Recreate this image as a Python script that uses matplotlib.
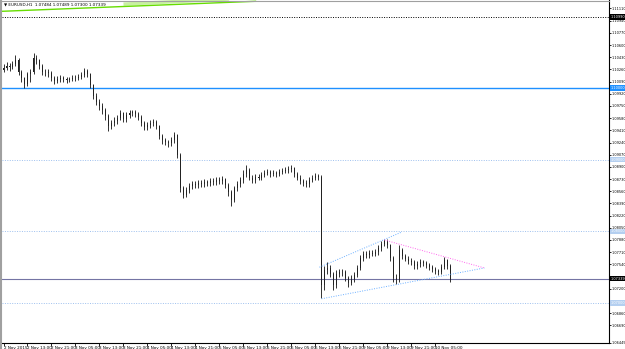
import matplotlib
matplotlib.use("Agg")
import matplotlib.pyplot as plt
import matplotlib.transforms as mtrans

plt.rcParams["font.family"] = ["Liberation Sans Narrow", "DejaVu Sans"]

# ── Data: EURUSD H1, 2-10 Nov 2015 ─────────────────────────────────────────────
closes = [
    1.1028, 1.1031, 1.1029, 1.1034, 1.1039, 1.1022, 1.1014, 1.1006, 1.1019, 1.1022,
    1.1042, 1.1039, 1.1031, 1.1022, 1.1022, 1.1021, 1.1014, 1.1010, 1.1013, 1.1014,
    1.1013, 1.1011, 1.1013, 1.1014, 1.1014, 1.1015, 1.1018, 1.1024, 1.1019, 1.1004,
    1.0989, 1.0981, 1.0975, 1.0969, 1.0961, 1.0947, 1.0951, 1.0954, 1.0958, 1.0965,
    1.0957, 1.0962, 1.0965, 1.0966, 1.0964, 1.0960, 1.0951, 1.0946, 1.0948, 1.0951,
    1.0953, 1.0947, 1.0933, 1.0927, 1.0925, 1.0923, 1.0927, 1.0934, 1.0907, 1.0860,
    1.0851, 1.0858, 1.0863, 1.0866, 1.0865, 1.0867, 1.0866, 1.0869, 1.0867, 1.0870,
    1.0869, 1.0872, 1.0870, 1.0873, 1.0865, 1.0855, 1.0844, 1.0860, 1.0866, 1.0872,
    1.0880, 1.0886, 1.0875, 1.0872, 1.0876, 1.0875, 1.0879, 1.0881, 1.0883, 1.0880,
    1.0881, 1.0880, 1.0883, 1.0884, 1.0886, 1.0887, 1.0888, 1.0880, 1.0875, 1.0870,
    1.0867, 1.0866, 1.0872, 1.0875, 1.0877, 1.0876, 1.0725, 1.0746, 1.0749, 1.0741,
    1.0725, 1.0741, 1.0743, 1.0743, 1.0735, 1.0728, 1.0734, 1.0739, 1.0749, 1.0763,
    1.0769, 1.0767, 1.0770, 1.0769, 1.0771, 1.0777, 1.0783, 1.0787, 1.0781, 1.0763,
    1.0735, 1.0732, 1.0774, 1.0766, 1.0762, 1.0759, 1.0757, 1.0752, 1.0755, 1.0757,
    1.0756, 1.0753, 1.0750, 1.0748, 1.0745, 1.0743, 1.0750, 1.0760, 1.0752, 1.0734,
]
highs = [
    1.1033, 1.1036, 1.1035, 1.1038, 1.1046, 1.1042, 1.1025, 1.1016, 1.1022, 1.1026,
    1.1049, 1.1046, 1.1041, 1.1033, 1.1027, 1.1026, 1.1024, 1.1017, 1.1017, 1.1018,
    1.1017, 1.1016, 1.1016, 1.1018, 1.1018, 1.1019, 1.1022, 1.1028, 1.1027, 1.1021,
    1.1006, 1.0993, 1.0985, 1.0979, 1.0972, 1.0964, 1.0956, 1.0959, 1.0963, 1.0969,
    1.0967, 1.0966, 1.0969, 1.0970, 1.0969, 1.0967, 1.0962, 1.0954, 1.0952, 1.0955,
    1.0957, 1.0956, 1.0949, 1.0936, 1.0930, 1.0928, 1.0931, 1.0939, 1.0936, 1.0910,
    1.0864, 1.0862, 1.0867, 1.0870, 1.0870, 1.0871, 1.0871, 1.0873, 1.0872, 1.0874,
    1.0874, 1.0876, 1.0876, 1.0877, 1.0875, 1.0868, 1.0858, 1.0863, 1.0870, 1.0876,
    1.0885, 1.0893, 1.0889, 1.0878, 1.0880, 1.0880, 1.0883, 1.0885, 1.0887, 1.0886,
    1.0885, 1.0884, 1.0887, 1.0888, 1.0890, 1.0891, 1.0893, 1.0890, 1.0883, 1.0878,
    1.0873, 1.0871, 1.0876, 1.0879, 1.0881, 1.0880, 1.0879, 1.0752, 1.0757, 1.0753,
    1.0744, 1.0746, 1.0748, 1.0748, 1.0746, 1.0738, 1.0739, 1.0743, 1.0753, 1.0767,
    1.0773, 1.0772, 1.0774, 1.0774, 1.0775, 1.0781, 1.0787, 1.0790, 1.0789, 1.0783,
    1.0766, 1.0740, 1.0781, 1.0777, 1.0769, 1.0765, 1.0763, 1.0760, 1.0759, 1.0761,
    1.0760, 1.0759, 1.0756, 1.0753, 1.0751, 1.0748, 1.0754, 1.0764, 1.0762, 1.0754,
]
lows = [
    1.1022, 1.1025, 1.1024, 1.1026, 1.1031, 1.1018, 1.1009, 1.1000, 1.1003, 1.1008,
    1.1020, 1.1033, 1.1027, 1.1018, 1.1017, 1.1016, 1.1010, 1.1006, 1.1007, 1.1009,
    1.1009, 1.1007, 1.1008, 1.1010, 1.1010, 1.1011, 1.1012, 1.1015, 1.1015, 1.1000,
    1.0984, 1.0976, 1.0970, 1.0964, 1.0956, 1.0940, 1.0943, 1.0947, 1.0950, 1.0955,
    1.0953, 1.0953, 1.0958, 1.0961, 1.0960, 1.0956, 1.0947, 1.0942, 1.0942, 1.0944,
    1.0947, 1.0943, 1.0929, 1.0922, 1.0920, 1.0918, 1.0919, 1.0924, 1.0903, 1.0855,
    1.0847, 1.0848, 1.0854, 1.0859, 1.0861, 1.0861, 1.0862, 1.0862, 1.0863, 1.0863,
    1.0865, 1.0865, 1.0866, 1.0866, 1.0861, 1.0850, 1.0836, 1.0841, 1.0856, 1.0862,
    1.0868, 1.0876, 1.0871, 1.0868, 1.0868, 1.0871, 1.0871, 1.0876, 1.0878, 1.0876,
    1.0877, 1.0876, 1.0877, 1.0880, 1.0881, 1.0882, 1.0883, 1.0876, 1.0871, 1.0866,
    1.0863, 1.0862, 1.0862, 1.0869, 1.0871, 1.0872, 1.0707, 1.0718, 1.0740, 1.0736,
    1.0718, 1.0721, 1.0737, 1.0738, 1.0731, 1.0722, 1.0725, 1.0730, 1.0736, 1.0746,
    1.0759, 1.0763, 1.0763, 1.0765, 1.0765, 1.0767, 1.0773, 1.0779, 1.0777, 1.0759,
    1.0730, 1.0727, 1.0730, 1.0761, 1.0758, 1.0755, 1.0753, 1.0748, 1.0748, 1.0751,
    1.0752, 1.0749, 1.0746, 1.0744, 1.0741, 1.0739, 1.0740, 1.0747, 1.0748, 1.0730,
]
first_open = 1.1025

time_labels = ["2 Nov 2015", "2 Nov 13:00", "2 Nov 21:00", "3 Nov 05:00", "3 Nov 13:00",
               "3 Nov 21:00", "4 Nov 05:00", "4 Nov 13:00", "4 Nov 21:00", "5 Nov 05:00",
               "5 Nov 13:00", "5 Nov 21:00", "6 Nov 05:00", "6 Nov 13:00", "6 Nov 21:00",
               "9 Nov 05:00", "9 Nov 13:00", "9 Nov 21:00", "10 Nov 05:00"]
# scale labels (those hidden under the price boxes left out)
price_ticks = [1.11110, 1.10940, 1.10770, 1.10600, 1.10430, 1.10260, 1.10090, 1.09920,
               1.09750, 1.09580, 1.09410, 1.09240, 1.09070, 1.08900, 1.08730, 1.08560,
               1.08390, 1.08220, 1.08050, 1.07880, 1.07710, 1.07540, 1.07200,
               1.06860, 1.06690, 1.06445]

# objects drawn on the chart
level_black = 1.10990
level_blue = 1.10000
levels_dotted = [1.09000, 1.08000, 1.07000]
bid = 1.07339
tri_upper = ([105.3, 132.7], [1.0750, 1.0799])
tri_lower = ([106.0, 160.3], [1.0706, 1.0749])
tri_pink = ([127.0, 160.3], [1.0788, 1.0749])
green_line = ([-0.7, 84.0], [1.1107, 1.1121])
green_band = ([40.0, 84.0], [1.1117, 1.1126])

FS = 3.0      # time labels / header
FS_Y = 2.5    # price scale
W, H = 625, 349
fig = plt.figure(figsize=(W / 100, H / 100), dpi=100)
fig.patch.set_facecolor("white")
ax = fig.add_axes([2 / W, 6 / H, 607 / W, 343 / H])
ax.set_xlim(-0.5, -0.5 + 607 / 3)
ax.set_ylim(1.06443, 1.11228)

n = len(closes)
idx = list(range(n))
opens = [first_open] + closes[:-1]

# bars
ax.vlines(idx, lows, highs, color="#111111", lw=0.6, zorder=3)
bodies = [c - o for o, c in zip(opens, closes)]
ax.bar(idx, bodies, bottom=opens, width=0.4, color="#222222", lw=0, zorder=3)

# horizontal levels
ax.axhline(level_black, color="black", lw=0.7, ls=(0, (1, 1.5)), zorder=2)
ax.axhline(level_blue, color="#1e90ff", lw=1.0, zorder=2)
for lv in levels_dotted:
    ax.axhline(lv, color="#9ec0ee", lw=0.7, ls=(0, (1, 1.5)), zorder=2)
ax.axhline(bid, color="#7474a4", lw=0.8, zorder=2)

# trend lines
ax.plot(*tri_upper, color="#6cb0ff", lw=0.7, ls=(0, (1, 1.5)), zorder=4)
ax.plot(*tri_lower, color="#6cb0ff", lw=0.7, ls=(0, (1, 1.5)), zorder=4)
ax.plot(*tri_pink, color="#ff66ee", lw=0.7, ls=(0, (1, 1.5)), zorder=4)
ax.plot(*green_band, color="#c8f0a0", lw=2.5, zorder=1, solid_capstyle="butt")
ax.plot(*green_line, color="#66dd00", lw=1.0, zorder=2)

# axes styling
for side in ("top", "left"):
    ax.spines[side].set_visible(False)
for side in ("right", "bottom"):
    ax.spines[side].set_color("black")
    ax.spines[side].set_linewidth(0.8)

ax.yaxis.tick_right()
ax.set_yticks(price_ticks)
ax.set_yticklabels([f"{p:.5f}" for p in price_ticks])
ax.tick_params(axis="y", direction="out", length=1.5, width=0.6, pad=0.5,
               labelsize=FS_Y, colors="black")

ax.set_xticks(idx[::8][:len(time_labels)])
ax.set_xticklabels(time_labels)
ax.tick_params(axis="x", direction="out", length=2.0, width=0.6, pad=0.3,
               labelsize=FS, colors="black")
for lbl in ax.get_xticklabels():
    lbl.set_horizontalalignment("left")

# price boxes on the right axis
tr = mtrans.blended_transform_factory(ax.transAxes, ax.transData)
def box(price, fc, tc="white"):
    ax.text(1.003, price, f"{price:.5f}", transform=tr, ha="left", va="center",
            fontsize=FS_Y, color=tc, zorder=6, clip_on=False,
            bbox=dict(facecolor=fc, edgecolor="none", pad=0.5))

box(level_black, "black")
box(level_blue, "#1e90ff")
for lv in levels_dotted:
    box(lv, "#b4cff0")
box(bid, "black")

# window border and header
fig.add_artist(plt.Line2D([1 / W, 1 / W], [0, 1], color="#a0a0a0", lw=1.5))
fig.add_artist(plt.Line2D([0, 609 / W], [1 - 0.5 / H, 1 - 0.5 / H], color="#a0a0a0", lw=0.8))
fig.text(4 / W, 1 - 5 / H, "▼ EURUSD,H1  1.07484 1.07489 1.07300 1.07339",
         fontsize=FS, ha="left", va="center", color="black")

fig.savefig("out.png", dpi=100)
